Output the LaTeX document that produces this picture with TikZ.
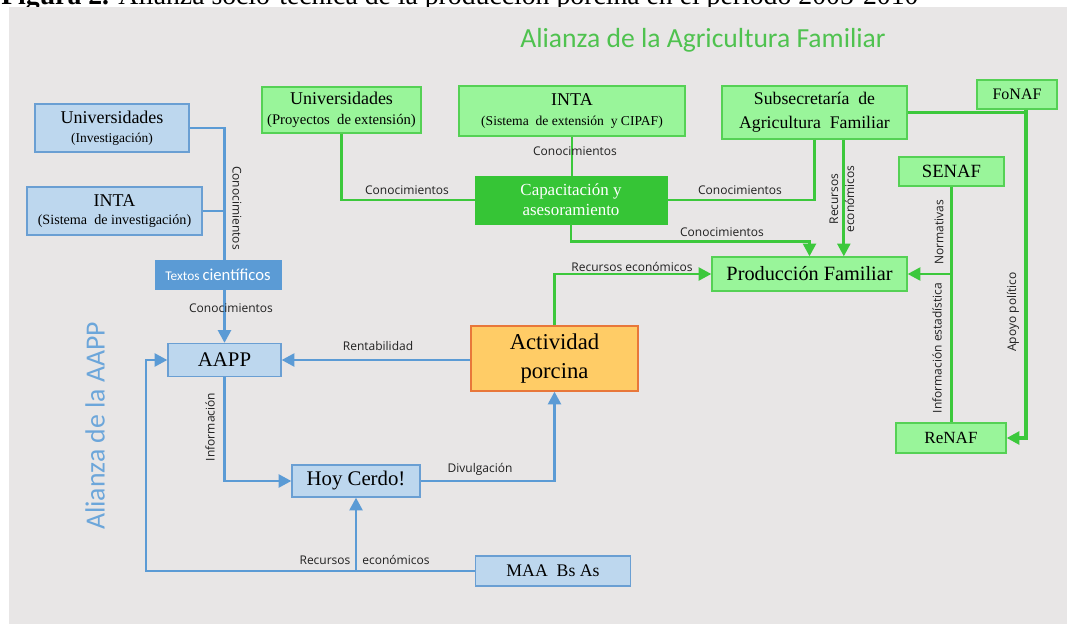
\documentclass[tikz,border=0pt]{standalone}
\usepackage{fontspec}
\setmainfont{Liberation Serif}
\newfontfamily\lblfont{Open Sans}
\newfontfamily\calfont{Carlito}
\usetikzlibrary{arrows.meta}
\definecolor{bgc}{HTML}{E8E6E6}
\definecolor{bfill}{HTML}{BDD7EE}
\definecolor{bdraw}{HTML}{6A9FD3}
\definecolor{blinec}{HTML}{5B9BD5}
\definecolor{gfill}{HTML}{99F59A}
\definecolor{gdraw}{HTML}{55D155}
\definecolor{glinec}{HTML}{3CC83C}
\definecolor{gdark}{HTML}{36C536}
\definecolor{ofill}{HTML}{FFCC66}
\definecolor{odraw}{HTML}{E8773A}
\definecolor{gtitle}{HTML}{4FC24F}
\definecolor{btitle}{HTML}{6CA6DA}
\definecolor{lbltext}{HTML}{202020}
\begin{document}
\begin{tikzpicture}[x=0.75pt,y=-0.75pt,
  wh/.style 2 args={minimum width=#1*0.75pt, minimum height=#2*0.75pt},
  bbox/.style={draw=bdraw, fill=bfill, line width=0.9pt, inner sep=0pt, align=center},
  gbox/.style={draw=gdraw, fill=gfill, line width=0.9pt, inner sep=0pt, align=center},
  lbl/.style={font=\lblfont\fontsize{9}{11}\selectfont, text=lbltext, inner sep=1pt},
  tip/.style={-{Triangle[length=9.5pt,width=9.5pt]}},
  bl/.style={draw=blinec, line width=2.2pt},
  gl/.style={draw=glinec, line width=2.2pt}
]
\useasboundingbox (0,0) rectangle (1067,624);
\node[anchor=base west, inner sep=0pt, font=\fontsize{20.8}{24}\selectfont] (cap) at (1,5)
  {\textbf{Figura 2.} Alianza socio-técnica de la producción porcina en el período 2005-2010};
\fill[bgc] (9,7) rectangle (1067,624);

% titles
\node[font=\calfont\fontsize{20.7}{24}\selectfont, text=gtitle] (tg) at (703,40) {Alianza de la Agricultura Familiar};
\node[font=\calfont\fontsize{20.8}{24}\selectfont, text=btitle, rotate=90] (tb) at (95,426) {Alianza de la AAPP};

% blue nodes
\node[bbox, wh={154}{48}] (uinv) at (112,128)
  {{\fontsize{13.5}{14}\selectfont Universidades}\\[2pt]{\fontsize{10.1}{11}\selectfont (Investigación)}};
\node[bbox, wh={175}{48}] (intainv) at (114.5,211)
  {{\fontsize{13.5}{14}\selectfont INTA}\\[1.5pt]{\fontsize{10.6}{11}\selectfont (Sistema \ de investigación)}};
\node[draw=blinec, fill=blinec, inner sep=0pt, wh={126}{29}, text=white] (textos) at (218,274.5)
  {\calfont{\fontsize{10}{11}\selectfont Textos} {\fontsize{12.5}{13}\selectfont científicos}};
\node[bbox, wh={113}{33}, font=\fontsize{15.6}{17}\selectfont] (aapp) at (224.5,360) {AAPP};
\node[bbox, wh={128}{32}, font=\fontsize{15.6}{17}\selectfont] (hoy) at (356,481) {Hoy Cerdo!};
\node[bbox, wh={155}{30}, font=\fontsize{13.3}{15}\selectfont] (maa) at (553,571) {MAA \ Bs As};

% green nodes
\node[gbox, wh={159}{46}] (uext) at (341.5,110)
  {{\fontsize{13.5}{14}\selectfont Universidades}\\[2.5pt]{\fontsize{11}{11}\selectfont (Proyectos \ de extensión)}};
\node[gbox, wh={226}{50}] (intaext) at (572,111)
  {{\fontsize{13.5}{14}\selectfont INTA}\\[2.5pt]{\fontsize{10.2}{11}\selectfont (Sistema \ de extensión \ y CIPAF)}};
\node[gbox, wh={185}{53}, font=\fontsize{13.3}{18}\selectfont] (subs) at (814.5,112.5)
  {Subsecretaría \ de\\Agricultura \ Familiar};
\node[gbox, wh={80}{29}, font=\fontsize{12}{14}\selectfont] (fonaf) at (1017,94.5) {FoNAF};
\node[gbox, wh={105}{29}, font=\fontsize{14}{15}\selectfont] (senaf) at (951.5,171.5) {SENAF};
\node[draw=gdark, fill=gdark, inner sep=0pt, align=center, wh={192}{48}, text=white,
  font=\fontsize{12.7}{15}\selectfont] (capac) at (571,200) {Capacitación y\\asesoramiento};
\node[gbox, wh={195}{34}, font=\fontsize{15.2}{17}\selectfont] (prod) at (809.5,274) {Producción Familiar};
\node[gbox, wh={110}{30}, font=\fontsize{12.8}{15}\selectfont] (renaf) at (951,438) {ReNAF};
\node[draw=odraw, fill=ofill, line width=0.9pt, inner sep=0pt, align=center, wh={167}{65},
  font=\fontsize{17}{22}\selectfont] (activ) at (554.5,358.5) {Actividad\\porcina};

% blue connectors
\coordinate (lb) at (146,571);
\draw[bl] (uinv.east) -| (textos.north -| aapp.north);
\draw[bl] (intainv.east) -- (intainv.east -| aapp.north);
\draw[bl,tip] (textos.south -| aapp.north) -- (aapp.north);
\draw[bl,tip] (activ.west |- aapp.east) -- (aapp.east);
\draw[bl,tip] (aapp.south) |- (hoy.west);
\draw[bl,tip] (hoy.east) -| (activ.south);
\draw[bl,tip] (maa.west) -- (lb) |- (aapp.west);
\draw[bl,tip] (maa.west -| hoy.south) -- (hoy.south);

% green connectors
\draw[gl] (uext.south) |- (capac.west);
\draw[gl] (intaext.south) -- (intaext.south |- capac.north);
\draw[gl] (subs.south) |- (capac.east);
\draw[gl,tip] (capac.south) |- ([yshift=11.25pt]prod.north) -- (prod.north);
\draw[gl,tip] ([xshift=22pt]subs.south) -- ([xshift=22pt]subs.south |- prod.north);
\draw[gl,tip] (activ.north) |- (prod.west);
\draw[gl] (senaf.south) -- (senaf.south |- renaf.north);
\draw[gl,tip] (senaf.south |- prod.east) -- (prod.east);
\draw[gl] (subs.east) -- ([xshift=6.75pt]fonaf.south |- subs.east);
\draw[gl,line width=3pt,tip] ([xshift=6.75pt]fonaf.south) |- (renaf.east);

% labels
\node[lbl, rotate=-90] (l1) at (237,208) {Conocimientos};
\node[lbl] (l2) at (231,308) {Conocimientos};
\node[lbl] (l3) at (378,346) {Rentabilidad};
\node[lbl, rotate=90] (l4) at (210,427) {Información};
\node[lbl] (l5) at (480,469) {Divulgación};
\node[lbl] (l6) at (325,560) {Recursos};
\node[lbl] (l7) at (396,560) {económicos};
\node[lbl] (l8) at (407,190) {Conocimientos};
\node[lbl] (l9) at (575,151) {Conocimientos};
\node[lbl] (l10) at (740,190) {Conocimientos};
\node[lbl] (l11) at (722,232) {Conocimientos};
\node[lbl] (l12) at (632,267) {Recursos económicos};
\node[lbl, rotate=90, align=center, font=\lblfont\fontsize{9}{12}\selectfont] (l13) at (842,199) {Recursos\\económicos};
\node[lbl, rotate=90] (l14) at (939,232) {Normativas};
\node[lbl, rotate=90] (l15) at (937,348) {Información estadística};
\node[lbl, rotate=90] (l16) at (1013,312) {Apoyo político};
\end{tikzpicture}
\end{document}
